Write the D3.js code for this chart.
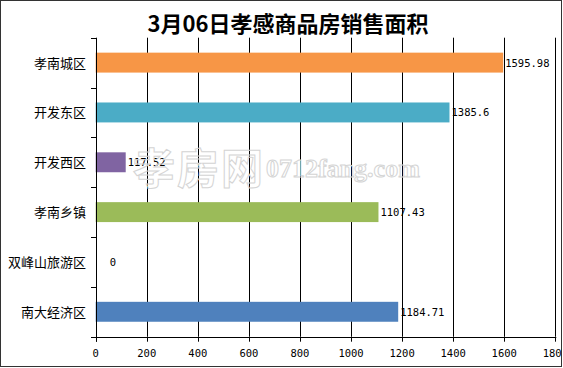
<!DOCTYPE html>
<html><head><meta charset="utf-8">
<script src="https://cdn.jsdelivr.net/npm/d3@7"></script>
<style>html,body{margin:0;padding:0;background:#fff;overflow:hidden}</style>
</head><body>
<svg id="c" width="563" height="368"></svg>
<script>
const categories = ["孝南城区","开发东区","开发西区","孝南乡镇","双峰山旅游区","南大经济区"];
const values = [1595.98, 1385.6, 117.52, 1107.43, 0, 1184.71];
const valueLabels = ["1595.98","1385.6","117.52","1107.43","0","1184.71"];
const colors = ["#F79646","#4BACC6","#8064A2","#9BBB59","#4F81BD","#4F81BD"];
const tickValues = [0,200,400,600,800,1000,1200,1400,1600,1800];
const title = "3月06日孝感商品房销售面积";

const svg = d3.select("#c");
const L = 95.7, R = 555.3, T = 37.7, B = 336.7;
const x = d3.scaleLinear().domain([0,1800]).range([L,R]);
const y = d3.scaleBand().domain(categories).range([T,B]).paddingInner(0.6).paddingOuter(0.3);
const step = y.step();

svg.append("defs").append("clipPath").attr("id","clip")
  .append("rect").attr("x",1).attr("y",1).attr("width",560).attr("height",365);

svg.append("rect").attr("x",0.5).attr("y",0.5).attr("width",561).attr("height",366)
  .attr("fill","#fff").attr("stroke","#333").attr("stroke-width",1);

const g = svg.append("g").attr("clip-path","url(#clip)");

// title
g.append("text").attr("x",288).attr("y",32).attr("text-anchor","middle")
  .attr("font-family","'Noto Sans CJK SC', sans-serif").attr("font-weight","bold")
  .attr("font-size",22).attr("fill","#000").text(title);

// gridlines
g.append("g").selectAll("line").data(tickValues.slice(1)).join("line")
  .attr("x1",d=>Math.round(x(d))+0.5).attr("x2",d=>Math.round(x(d))+0.5)
  .attr("y1",T).attr("y2",B).attr("stroke","#000").attr("stroke-width",1);

// bars
g.append("g").selectAll("rect").data(categories).join("rect")
  .attr("x",x(0)).attr("y",d=>y(d)).attr("height",y.bandwidth())
  .attr("width",(d,i)=>x(values[i])-x(0)).attr("fill",(d,i)=>colors[i]);

// value labels
g.append("g").selectAll("text").data(categories).join("text")
  .attr("x",(d,i)=>x(values[i])+(values[i]===0?14:2))
  .attr("y",d=>y(d)+y.bandwidth()/2+4)
  .attr("font-family","'DejaVu Sans Mono', monospace").attr("font-size",10.5)
  .attr("fill","#000").text((d,i)=>valueLabels[i]);

// watermark
const wm = g.append("g").attr("fill","none").attr("stroke","#d4d4d4").attr("stroke-width",1);
wm.append("text").attr("x",133).attr("y",184).attr("font-family","'Noto Sans CJK SC', sans-serif")
  .attr("font-weight","bold").attr("font-size",42).attr("letter-spacing",2).text("孝房网");
wm.append("text").attr("x",266).attr("y",177).attr("font-family","'Liberation Serif', serif")
  .attr("font-weight","bold").attr("font-size",26).text("0712fang.com");

// y axis
const yax = g.append("g");
yax.append("line").attr("x1",Math.round(L)+0.5).attr("x2",Math.round(L)+0.5).attr("y1",T).attr("y2",B+5)
  .attr("stroke","#000");
yax.selectAll("line.t").data(d3.range(categories.length+1)).join("line").attr("class","t")
  .attr("x1",Math.round(L)-5).attr("x2",Math.round(L)+0.5)
  .attr("y1",i=>Math.round(T+i*step)+0.5).attr("y2",i=>Math.round(T+i*step)+0.5)
  .attr("stroke","#000");
yax.selectAll("text").data(categories).join("text")
  .attr("x",86).attr("y",d=>y(d)+y.bandwidth()/2+5).attr("text-anchor","end")
  .attr("font-family","'Noto Sans CJK SC', sans-serif").attr("font-size",13).attr("fill","#000")
  .text(d=>d);

// x axis
const xax = g.append("g");
xax.append("line").attr("x1",L).attr("x2",R+1).attr("y1",Math.round(B)+0.5).attr("y2",Math.round(B)+0.5)
  .attr("stroke","#000");
xax.selectAll("line.t").data(tickValues).join("line").attr("class","t")
  .attr("x1",d=>Math.round(x(d))+0.5).attr("x2",d=>Math.round(x(d))+0.5)
  .attr("y1",B).attr("y2",B+5).attr("stroke","#000");
xax.selectAll("text").data(tickValues).join("text")
  .attr("x",d=>x(d)).attr("y",357).attr("text-anchor","middle")
  .attr("font-family","'DejaVu Sans Mono', monospace").attr("font-size",10.5).attr("fill","#000")
  .text(d=>d);
</script>
</body></html>
